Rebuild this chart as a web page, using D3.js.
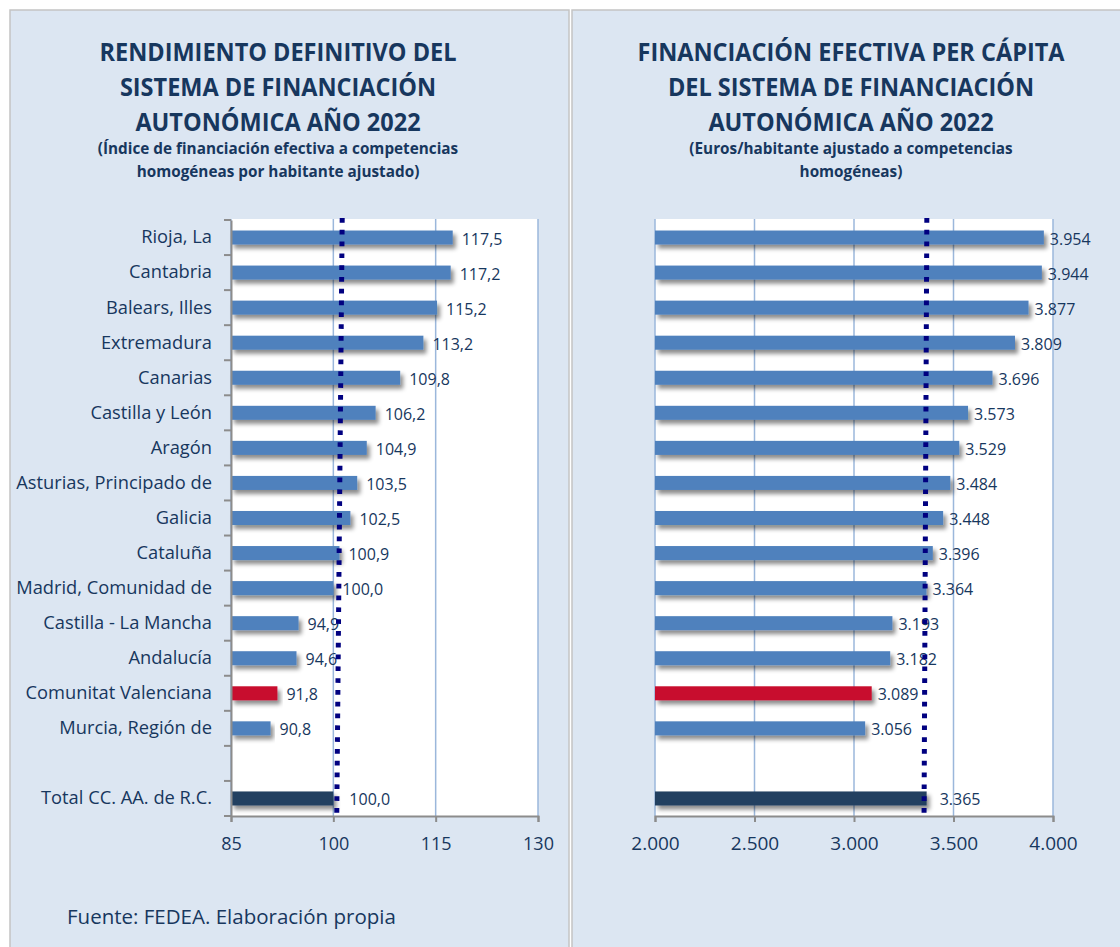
<!DOCTYPE html>
<html>
<head>
<meta charset="utf-8">
<script src="https://cdn.jsdelivr.net/npm/d3@7"></script>
<style>
  body { margin: 0; background: #fff; }
  text { font-family: "Open Sans", sans-serif; fill: #17375e; }
</style>
</head>
<body>
<div id="container"></div>
<script>
// DATA
const regions = ["Rioja, La", "Cantabria", "Balears, Illes", "Extremadura", "Canarias",
  "Castilla y León", "Aragón", "Asturias, Principado de", "Galicia", "Cataluña",
  "Madrid, Comunidad de", "Castilla - La Mancha", "Andalucía", "Comunitat Valenciana",
  "Murcia, Región de", "", "Total CC. AA. de R.C."];
const indexValues = [117.5, 117.2, 115.2, 113.2, 109.8, 106.2, 104.9, 103.5, 102.5, 100.9,
  100.0, 94.9, 94.6, 91.8, 90.8, null, 100.0];
const euroValues = [3954, 3944, 3877, 3809, 3696, 3573, 3529, 3484, 3448, 3396,
  3364, 3193, 3182, 3089, 3056, null, 3365];
const indexTicks = [85, 100, 115, 130];
const euroTicks = [2000, 2500, 3000, 3500, 4000];
const indexAvgLine = [101.3, 100.5];   // dotted reference (top, bottom)
const euroAvgLine = [3366, 3352];
const highlight = "Comunitat Valenciana";
const totalName = "Total CC. AA. de R.C.";

const leftTitle = ["RENDIMIENTO DEFINITIVO DEL", "SISTEMA DE FINANCIACIÓN", "AUTONÓMICA AÑO 2022"];
const leftSub = ["(Índice de financiación efectiva a competencias", "homogéneas por habitante ajustado)"];
const rightTitle = ["FINANCIACIÓN EFECTIVA PER CÁPITA", "DEL SISTEMA DE FINANCIACIÓN", "AUTONÓMICA AÑO 2022"];
const rightSub = ["(Euros/habitante ajustado a competencias", "homogéneas)"];
const source = "Fuente: FEDEA. Elaboración propia";

// CONSTANTS
const width = 1120, height = 947;
const plotTop = 220, plotBottom = 816;
const es = d3.formatLocale({ decimal: ",", thousands: ".", grouping: [3], currency: ["", "€"] });
const fmtIndex = es.format(".1f");
const fmtEuro = es.format(",d");

const colorOf = name => name === highlight ? "#c8102e" : name === totalName ? "#243f60" : "#4f81bd";

const svg = d3.select("#container").append("svg")
  .attr("width", width)
  .attr("height", height);

const defs = svg.append("defs");
defs.append("filter").attr("id", "shadow")
  .attr("x", "-5%").attr("y", "-50%").attr("width", "115%").attr("height", "250%")
  .append("feDropShadow")
  .attr("dx", 3).attr("dy", 4).attr("stdDeviation", 2.2)
  .attr("flood-color", "#000").attr("flood-opacity", 0.45);

// PANELS
svg.append("rect").attr("x", 10).attr("y", 10).attr("width", 559).attr("height", 950)
  .attr("fill", "#dce6f2").attr("stroke", "#c4c4c4").attr("stroke-width", 1.5);
svg.append("rect").attr("x", 572).attr("y", 10).attr("width", 560).attr("height", 950)
  .attr("fill", "#dce6f2").attr("stroke", "#c4c4c4").attr("stroke-width", 1.5);

function titles(lines, subs, cx) {
  lines.forEach((t, i) => {
    const el = svg.append("text")
      .attr("x", cx).attr("y", 61 + i * 34.8)
      .attr("text-anchor", "middle")
      .attr("font-size", 25).attr("font-weight", "bold")
      .text(t);
    const w = el.node().getComputedTextLength();
    el.attr("textLength", w * 0.94).attr("lengthAdjust", "spacingAndGlyphs");
  });
  subs.forEach((t, i) => {
    svg.append("text")
      .attr("x", cx).attr("y", 154 + i * 23)
      .attr("text-anchor", "middle")
      .attr("font-size", 15.3).attr("font-weight", "bold")
      .text(t);
  });
}

function drawChart(opts) {
  const { values, x0, x1, domain, ticks, fmt, tickFmt, avg, showCats, gap, tickSize } = opts;

  const x = d3.scaleLinear().domain(domain).range([x0, x1]);
  const y = d3.scaleBand().domain(regions).range([plotTop, plotBottom]).padding(0);
  const g = svg.append("g");

  // plot area
  g.append("rect").attr("x", x0).attr("y", plotTop - 1).attr("width", x1 - x0).attr("height", plotBottom - plotTop + 1)
    .attr("fill", "#fff");

  // gridlines
  g.selectAll(".grid").data(ticks).join("line")
    .attr("x1", d => x(d)).attr("x2", d => x(d))
    .attr("y1", plotTop - 1).attr("y2", plotBottom)
    .attr("stroke", "#9bb7db").attr("stroke-width", 1.5);

  const data = regions.map((r, i) => ({ name: r, value: values[i] })).filter(d => d.value != null);

  // bars
  const barH = y.bandwidth() * 0.4;
  g.selectAll(".bar").data(data).join("rect")
    .attr("x", x0)
    .attr("y", d => y(d.name) + y.bandwidth() / 2 - barH / 2)
    .attr("width", d => x(d.value) - x0)
    .attr("height", barH)
    .attr("fill", d => colorOf(d.name))
    .attr("filter", "url(#shadow)");

  // bottom axis
  const xAxis = d3.axisBottom(x).tickValues(ticks).tickFormat(tickFmt).tickSize(6).tickPadding(15);
  const xg = g.append("g").attr("transform", `translate(0,${plotBottom})`).call(xAxis);
  xg.select(".domain").attr("stroke", "#8c8c8c").attr("stroke-width", 2);
  xg.selectAll(".tick line").attr("stroke", "#8c8c8c").attr("stroke-width", 2);
  xg.selectAll(".tick text").attr("font-size", tickSize).attr("font-family", null).attr("fill", "#17375e");

  if (showCats) {
    const yAxis = d3.axisLeft(y).tickSize(0).tickPadding(19);
    const yg = g.append("g").attr("transform", `translate(${x0},0)`).call(yAxis);
    yg.select(".domain").attr("stroke", "#8c8c8c").attr("stroke-width", 2);
    yg.selectAll(".tick text").attr("font-size", 18.3).attr("font-family", null).attr("fill", "#17375e");
    // boundary ticks
    g.selectAll(".btick").data(d3.range(regions.length + 1)).join("line")
      .attr("x1", x0 - 7).attr("x2", x0)
      .attr("y1", i => plotTop + i * y.step()).attr("y2", i => plotTop + i * y.step())
      .attr("stroke", "#8c8c8c").attr("stroke-width", 2);
  }

  // value labels
  g.selectAll(".lbl").data(data).join("text")
    .attr("x", d => x(d.value) + (d.name === totalName ? gap + 7 : gap))
    .attr("y", d => y(d.name) + y.bandwidth() / 2 + 7)
    .attr("font-size", 16)
    .text(d => fmt(d.value));

  // dotted reference line
  g.append("line")
    .attr("x1", x(avg[0])).attr("y1", plotTop - 2)
    .attr("x2", x(avg[1])).attr("y2", plotBottom)
    .attr("stroke", "#000080").attr("stroke-width", 5)
    .attr("stroke-dasharray", "4.7,7.1");
}

titles(leftTitle, leftSub, 278);
titles(rightTitle, rightSub, 851);

drawChart({ values: indexValues, x0: 231, x1: 538, domain: [85, 130], ticks: indexTicks,
  fmt: fmtIndex, tickFmt: d3.format("d"), avg: indexAvgLine, showCats: true, gap: 9, tickSize: 18 });

drawChart({ values: euroValues, x0: 655, x1: 1053, domain: [2000, 4000], ticks: euroTicks,
  fmt: fmtEuro, tickFmt: fmtEuro, avg: euroAvgLine, showCats: false, gap: 6, tickSize: 19 });

svg.append("text").attr("x", 67).attr("y", 924).attr("font-size", 20.5).text(source);
</script>
</body>
</html>
